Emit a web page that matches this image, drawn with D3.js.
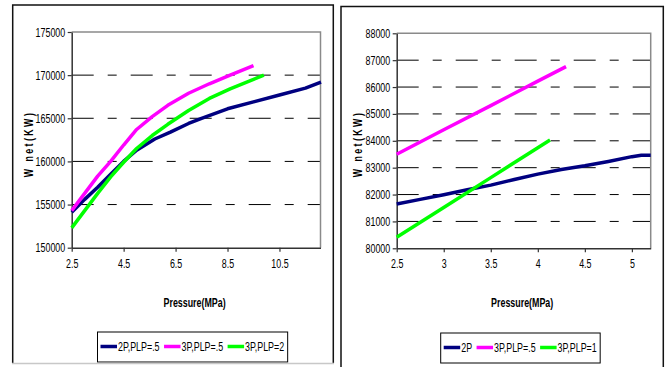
<!DOCTYPE html>
<html>
<head>
<meta charset="utf-8">
<script src="https://cdn.jsdelivr.net/npm/d3@7"></script>
<style>
  html, body { margin: 0; padding: 0; background: #fff; }
  svg { display: block; }
  text { font-family: "Liberation Sans", Arial, sans-serif; fill: #000; }
  .tick text { font-size: 12.5px; }
  .axis-title { font-size: 12.5px; font-weight: bold; }
  .legend text { font-size: 12.5px; }
</style>
</head>
<body>
<svg id="chart" width="668" height="367"></svg>
<script>
// ---- left chart data (W net vs pressure, high pressure range) ----
var leftNames = ["2P,PLP=.5", "3P,PLP=.5", "3P,PLP=2"];
var leftX2P = [2.5, 3, 3.5, 4, 4.5, 5, 5.7, 6.3, 7, 7.5, 8.5, 9.5, 10.5, 11.5, 12.1];
var leftY2P = [154100, 155600, 157000, 158500, 160000, 161300, 162600, 163400, 164400, 165000, 166100, 166900, 167700, 168500, 169200];
var leftX3P05 = [2.5, 3, 3.5, 4, 4.5, 5, 5.6, 6.2, 7, 7.8, 8.6, 9.5];
var leftY3P05 = [154300, 156300, 158300, 160000, 161900, 163700, 165200, 166500, 167900, 169000, 170000, 171100];
var leftX3P2 = [2.5, 3, 3.5, 4, 4.5, 5, 5.6, 6.2, 7, 7.8, 8.6, 9.9];
var leftY3P2 = [152300, 154300, 156300, 158200, 159900, 161500, 163000, 164300, 165900, 167300, 168400, 170000];
var leftXTicks = [2.5, 4.5, 6.5, 8.5, 10.5];
var leftYTicks = [150000, 155000, 160000, 165000, 170000, 175000];

// ---- right chart data (low pressure range) ----
var rightNames = ["2P", "3P,PLP=.5", "3P,PLP=1"];
var rightX2P = [2.5, 2.75, 3, 3.25, 3.5, 3.75, 4, 4.25, 4.5, 4.75, 5, 5.1, 5.2];
var rightY2P = [81650, 81820, 81990, 82180, 82350, 82560, 82760, 82930, 83070, 83230, 83410, 83460, 83460];
var rightX3P05 = [2.5, 3, 3.5, 4, 4.3];
var rightY3P05 = [83500, 84410, 85310, 86220, 86760];
var rightX3P1 = [2.5, 3, 3.5, 4, 4.13];
var rightY3P1 = [80410, 81520, 82630, 83740, 84030];
var rightXTicks = [2.5, 3, 3.5, 4, 4.5, 5];
var rightYTicks = [80000, 81000, 82000, 83000, 84000, 85000, 86000, 87000, 88000];

var seriesColors = ["#000080", "#ff00ff", "#00ff00"];
var narrow = 0.71; // the original uses a condensed face, squeeze the glyphs

var svg = d3.select("#chart");

function zipSeries(xs, ys) {
    return xs.map(function (x, i) { return {x: x, y: ys[i]}; });
}

// squeeze text horizontally (no condensed font installed); returns new width
function squeeze(sel) {
    var total = 0;
    sel.each(function () {
        var w = this.getComputedTextLength() * narrow;
        d3.select(this).attr("textLength", w).attr("lengthAdjust", "spacingAndGlyphs");
        total = w;
    });
    return total;
}

function drawChart(cfg) {
    var g = svg.append("g");

    // outer frame of the panel
    g.append("path")
        .attr("d", cfg.frame)
        .attr("fill", "none")
        .attr("stroke", "#111")
        .attr("stroke-width", 1.5);

    var x = d3.scaleLinear().domain(cfg.xDomain).range([cfg.left, cfg.right]);
    var y = d3.scaleLinear().domain(cfg.yDomain).range([cfg.bottom, cfg.top]);

    // dashed gridlines (not the top one, which is the plot border)
    g.append("g").selectAll("line")
        .data(cfg.yTicks.slice(1, -1))
        .enter().append("line")
        .attr("x1", cfg.left).attr("x2", cfg.right)
        .attr("y1", function (d) { return y(d); })
        .attr("y2", function (d) { return y(d); })
        .attr("stroke", "#000")
        .attr("stroke-width", 1)
        .attr("stroke-dasharray", "22,14,9,14");

    // plot area border, top and right in grey
    g.append("path")
        .attr("d", "M" + cfg.left + "," + cfg.top + "H" + cfg.right + "V" + cfg.bottom)
        .attr("fill", "none")
        .attr("stroke", "#8a8a8a")
        .attr("stroke-width", 1.5);

    var xAxis = d3.axisBottom(x).tickValues(cfg.xTicks).tickSize(4).tickSizeOuter(0).tickPadding(7)
        .tickFormat(function (d) { return String(d); });
    var yAxis = d3.axisLeft(y).tickValues(cfg.yTicks).tickSize(4).tickSizeOuter(0).tickPadding(2.5)
        .tickFormat(function (d) { return String(d); });

    var gx = g.append("g").attr("transform", "translate(0," + cfg.bottom + ")").call(xAxis);
    var gy = g.append("g").attr("transform", "translate(" + cfg.left + ",0)").call(yAxis);
    [gx, gy].forEach(function (a) {
        a.select(".domain").attr("stroke", "#333").attr("stroke-width", 1.5);
        a.selectAll(".tick line").attr("stroke", "#333").attr("stroke-width", 1.2);
        a.attr("font-family", null).attr("font-size", null);
        squeeze(a.selectAll(".tick text"));
    });

    // series lines
    var line = d3.line()
        .x(function (d) { return x(d.x); })
        .y(function (d) { return y(d.y); });
    cfg.series.forEach(function (s, i) {
        g.append("path")
            .datum(s)
            .attr("d", line)
            .attr("fill", "none")
            .attr("stroke", seriesColors[i])
            .attr("stroke-width", 3.5)
            .attr("stroke-linejoin", "round");
    });

    // axis titles
    var xt = g.append("text")
        .attr("class", "axis-title")
        .attr("x", (cfg.left + cfg.right) / 2 - 1.5)
        .attr("y", 306.5)
        .attr("text-anchor", "middle")
        .text("Pressure(MPa)");
    squeeze(xt);

    g.append("text")
        .attr("class", "axis-title")
        .attr("transform", "translate(" + cfg.yTitleX + "," + cfg.yTitleY + ") rotate(-90) scale(" + narrow + ",1)")
        .attr("text-anchor", "middle")
        .attr("letter-spacing", "3.4px")
        .attr("font-weight", "normal")
        .text("W net(KW)");

    // legend
    var lg = g.append("g").attr("class", "legend");
    var box = lg.append("rect")
        .attr("fill", "#fff")
        .attr("stroke", "#000")
        .attr("stroke-width", 1);
    var cx = cfg.legendX + 3;
    var ly = cfg.legendY + 14.5;
    cfg.names.forEach(function (name, i) {
        lg.append("line")
            .attr("x1", cx).attr("x2", cx + 16.5)
            .attr("y1", ly).attr("y2", ly)
            .attr("stroke", seriesColors[i])
            .attr("stroke-width", 3.5);
        var t = lg.append("text")
            .attr("x", cx + 17.5)
            .attr("y", ly + 4.5)
            .text(name);
        cx += 17.5 + squeeze(t) + 4.5;
    });
    box.attr("x", cfg.legendX).attr("y", cfg.legendY)
        .attr("width", cx - cfg.legendX - 1).attr("height", 30);
}

drawChart({
    frame: "M12.7,363V5H333.3V363",
    xDomain: [2.5, 12.08], yDomain: [150000, 175000],
    left: 71.7, right: 320.5, top: 32, bottom: 247.7,
    xTicks: leftXTicks, yTicks: leftYTicks,
    series: [zipSeries(leftX2P, leftY2P), zipSeries(leftX3P05, leftY3P05), zipSeries(leftX3P2, leftY3P2)],
    names: leftNames,
    yTitleX: 33, yTitleY: 144,
    legendX: 97.5, legendY: 332
});

drawChart({
    frame: "M341,370V6.5H663.3V370",
    xDomain: [2.5, 5.2], yDomain: [80000, 88000],
    left: 396.7, right: 650.7, top: 33.3, bottom: 248.3,
    xTicks: rightXTicks, yTicks: rightYTicks,
    series: [zipSeries(rightX2P, rightY2P), zipSeries(rightX3P05, rightY3P05), zipSeries(rightX3P1, rightY3P1)],
    names: rightNames,
    yTitleX: 362, yTitleY: 144,
    legendX: 440.7, legendY: 333
});

// light grey bottom edge of the left panel
svg.append("line")
    .attr("x1", 12).attr("x2", 334)
    .attr("y1", 363.5).attr("y2", 363.5)
    .attr("stroke", "#c8c8c8")
    .attr("stroke-width", 1.5);
</script>
</body>
</html>
